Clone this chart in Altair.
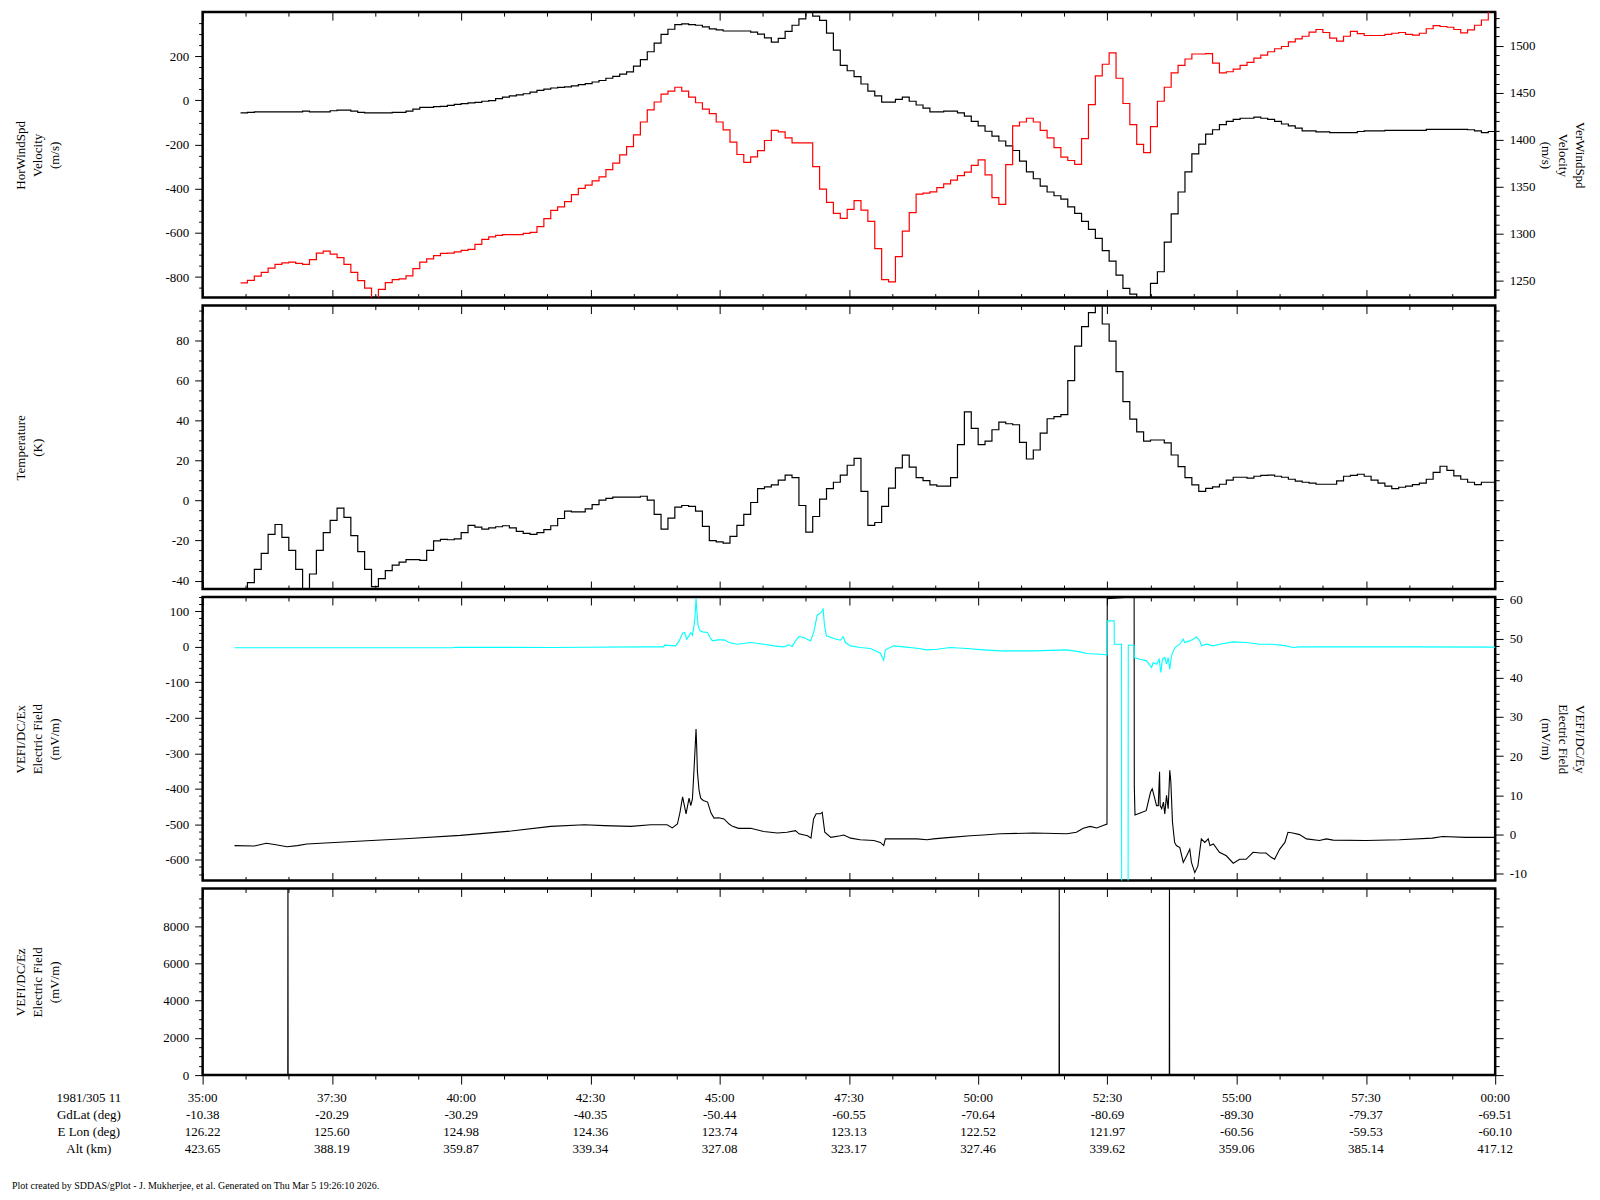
import altair as alt
import pandas as pd

FONT = "Liberation Serif"

# ---------------- data ----------------
T0, DT, T_END = 44, 8, 1500   # seconds after 11:35:00, 8 s sampling

hor_wind = [-57,-54,-52,-52,-52,-52,-52,-52,-52,-49,
            -52,-52,-52,-47,-44,-44,-49,-54,-57,-57,
            -57,-57,-54,-54,-49,-40,-32,-32,-28,-27,
            -23,-18,-15,-11,-9,-4,-1,8,15,20,
            25,30,37,45,51,56,59,61,66,71,
            76,83,90,100,109,119,129,155,
            184,220,259,299,322,343,346,343,340,333,
            324,319,314,314,314,314,309,300,283,264,
            281,312,340,369,405,381,362,304,227,158,
            134,107,74,42,20,-8,-8,4,15,-4,
            -21,-35,-52,-52,-49,-49,-57,-71,-95,-116,
            -140,-162,-184,-206,-227,-275,-324,-355,-388,-415,
            -432,-447,-482,
            -512,-548,-584,-625,-680,-728,-791,-851,-877,-900,
            -900,-829,-776,-642,-514,-415,-324,-242,-198,-153,
            -133,-110,-95,-86,-81,-81,-76,-81,-86,-95,
            -107,-116,-126,-138,-138,-143,-143,-146,-146,-146,
            -146,-141,-138,-138,-138,-136,-136,-136,-136,-136,
            -136,-131,-131,-131,-131,-131,-131,-133,-138,-146,
            -141]

ver_wind = [1247.6,1250.4,1254.8,1258.9,1263.3,1267.3,1268.9,1269.7,1268.5,1267.3,
            1272.5,1279.4,1281.4,1278.2,1274.5,1267.3,1258.9,1250.0,1242.0,1225.0,
            1240.7,1248.0,1251.2,1252.0,1255.2,1262.9,1269.7,1273.3,1276.6,1279.0,
            1279.4,1280.6,1282.2,1283.4,1288.6,1293.9,1296.7,1298.3,1299.1,1299.1,
            1299.1,1300.3,1301.5,1307.5,1316.0,1324.8,1328.5,1334.1,1341.7,1348.2,
            1351.8,1356.2,1360.6,1368.3,1375.1,1384.0,1392.8,1405.3,
            1419.0,1431.8,1440.3,1448.7,1451.9,1456.0,1451.9,1445.5,1439.5,1432.6,
            1427.8,1419.0,1410.5,1397.6,1384.4,1375.9,1381.9,1388.4,1399.3,1410.1,
            1408.5,1402.1,1396.8,1396.8,1396.8,1371.5,1347.4,1333.3,1321.6,1316.4,
            1326.0,1335.3,1325.2,1313.2,1284.2,1251.2,1248.8,1275.7,1302.7,1322.4,
            1342.1,1343.3,1344.5,1349.0,1353.0,1357.0,1361.8,1365.5,1372.7,1378.7,
            1362.6,1338.5,1331.3,1373.5,1414.9,1419.0,1423.0,1419.0,1410.1,1402.1,
            1391.6,1381.6,1378.0,
            1373.9,1401.3,1437.5,1468.0,1480.5,1492.6,1465.6,1438.7,1416.1,1395.2,
            1386.4,1414.1,1441.1,1456.0,1471.3,1479.3,1486.1,1491.4,1491.4,1491.8,
            1481.7,1471.3,1472.5,1475.3,1479.3,1482.5,1487.0,1490.2,1493.8,1497.0,
            1499.4,1504.3,1507.5,1510.3,1514.7,1517.5,1514.3,1508.3,1505.1,1510.3,
            1515.5,1513.1,1511.1,1511.1,1511.1,1512.3,1513.5,1514.3,1512.3,1511.5,
            1513.5,1518.3,1521.6,1520.7,1519.9,1517.5,1513.9,1517.1,1522.0,1527.6,
            1545.0]

temperature = [-47,-41.0,-34.4,-26.4,-16.9,-12.0,-18.4,-24.9,-34.4,-47,
               -36.7,-24.9,-16.0,-9.9,-3.8,-8.4,-17.5,-25.5,-34.4,-43.0,
               -39.0,-35.0,-32.3,-30.8,-29.5,-29.5,-29.9,-24.9,-20.2,-19.4,
               -19.6,-19.2,-16.0,-12.4,-13.3,-14.3,-13.7,-13.1,-12.6,-13.7,
               -15.4,-16.4,-16.9,-16.0,-14.5,-12.6,-9.0,-5.3,-5.7,-5.7,
               -4.2,-2.1,0.2,1.1,1.7,1.7,1.7,1.7,
               2.1,0.2,-6.9,-14.3,-8.8,-3.3,-2.5,-2.9,-5.3,-12.9,
               -20.0,-20.7,-21.3,-17.9,-12.4,-6.9,-1.0,5.9,6.8,7.8,
               10.2,12.7,11.4,-2.5,-15.8,-8.0,0.7,5.9,9.1,12.7,
               17.6,21.0,4.5,-12.4,-11.0,-2.9,6.2,16.3,22.6,16.7,
               11.4,9.9,7.8,7.2,7.2,11.4,27.9,44.2,36.0,27.9,
               29.6,35.3,39.1,38.3,37.8,29.0,20.7,25.2,33.6,40.8,
               41.9,42.9,59.8,
               77.1,86.8,93.8,100,88.1,79.5,64.3,49.3,40.6,34.2,
               29.6,30.2,30.2,28.8,22.7,16.9,11.4,7.8,4.5,6.0,
               6.8,8.1,10.2,11.6,11.6,11.2,12.1,12.5,12.7,12.1,
               11.6,10.6,9.7,9.1,8.7,8.1,8.1,8.1,9.8,12.1,
               12.5,13.1,12.1,10.2,8.7,7.2,5.9,6.6,7.2,7.9,
               8.7,10.6,14.0,17.1,15.0,12.3,10.6,9.1,7.9,9.1,
               9.1]

# VEFI DC Ex (cyan, left axis), (seconds after 11:35:00, mV/m)
ex_points = [(37,-3.0),(290,-3.0),(295,-1.5),(404,-2.2),(443,-1.5),(512,-0.3),(535,-0.3),(536,4.4),
             (549,2.5),(553,16.5),(557,38.1),(559.5,40.0),(561.8,21.2),(564.5,30.6),(566.5,40.0),
             (568.4,32.5),(570.3,58.7),(571.5,86.9),(572.6,135.6),(573.4,105.6),(575,58.7),(577.3,44.7),
             (580,41.9),(585.8,40.0),(588.9,25.9),(591.6,16.5),(597.4,19.4),(605.1,19.4),(610.9,11.9),
             (620.5,7.2),(636,11.9),(651.4,7.2),(663,2.5),(674.6,-0.3),(680.4,5.3),(684.2,0.6),
             (688.1,16.5),(692,28.7),(697.7,25.9),(705.5,16.5),(709.3,41.9),(713.2,88.8),(717,94.4),
             (720.1,105.6),(721.7,58.7),(724,30.6),(732.5,23.1),(740.2,18.4),(743.3,28.7),(746,11.9),
             (751.8,2.5),(763.4,-2.2),(775,-5.0),(786.5,-18.1),(790.4,-37.8),(792.3,-8.8),(802,2.5),
             (813.6,-0.3),(829,-4.1),(840.6,-8.8),(852.2,-6.9),(867.6,-2.2),(886.9,-5.0),(906.2,-8.8),
             (925.5,-11.6),(964,-11.6),(1002.7,-8.8),(1018.2,-14.4),(1025.9,-19.1),(1041.3,-21.0),
             (1049.6,-22.8),(1049.8,72.8),(1057.8,72.8),(1058,7.2),(1066.3,7.2),(1066.5,-700),
             (1074,-700),(1074.2,4.4),(1081,4.4),(1081.2,-30.3),(1087.7,-35.0),(1095.4,-39.7),
             (1099.2,-51.9),(1101.2,-58.5),(1103.1,-44.4),(1107,-49.1),(1110.1,-35.0),(1112,-72.5),
             (1113.9,-35.0),(1116.6,-30.3),(1118.6,-49.1),(1120.5,-30.3),(1122.4,-63.2),(1124.3,-25.6),
             (1126.3,-14.4),(1128.2,-2.2),(1134,7.2),(1137.9,21.2),(1139.8,11.9),(1145.6,16.5),
             (1149.4,21.2),(1153.3,27.8),(1157.2,16.5),(1159.1,2.5),(1164.9,7.2),(1172.6,2.5),
             (1180.3,7.2),(1195.8,13.7),(1211.2,11.9),(1226.7,7.2),(1242.1,7.2),(1257.5,2.5),
             (1265.3,-2.2),(1273,-0.3),(1400,-0.3),(1500,-1.2)]

# VEFI DC Ey (black, right axis)
ey_points = [(37,-2.8),(60,-2.9),(74,-2.2),(85,-2.6),(98,-3.1),(110,-2.8),(121,-2.4),(180,-1.7),
             (240,-1.0),(299,-0.2),(358,0.9),(404,2.1),(443,2.5),(466,2.3),(497,2.1),(520,2.5),
             (539,2.5),(545,1.7),(551,2.7),(554,5.7),(557,9.6),(561,5.3),(564.5,9.3),(566.5,7.4),
             (568.4,9.1),(570.3,16.8),(571.5,22.0),(572.6,26.9),(573.4,22.0),(574.2,16.0),(576.1,11.3),
             (578,9.3),(581,8.7),(586,8.3),(590,5.5),(593.5,4.2),(599,4.3),(605,4.0),(611,2.7),
             (615,2.1),(622,1.6),(636,1.6),(651,0.8),(667,0.4),(678,0.6),(688,1.0),(692,0.2),
             (702,-0.3),(706,-0.9),(709,4.0),(712,5.3),(717,5.3),(719,5.7),(720,4.0),(722,0.6),
             (729,-0.7),(740,-0.3),(744,-0.1),(752,-0.9),(763,-1.3),(779,-1.5),(786.5,-2.0),
             (790.4,-2.8),(792.3,-1.1),(802,-1.1),(829,-1.1),(840.6,-1.3),(848,-1.1),(868,-0.7),
             (891,-0.3),(906,-0.1),(925.5,0.2),(964,0.4),(1003,0.2),(1014,0.6),(1022,1.6),(1030,2.1),
             (1037.5,1.7),(1045,2.3),(1049.5,2.7),(1049.8,60.2),(1070,60.5),(1081,60.6),(1081.2,12.3),
             (1082,5.0),(1088,5.5),(1095,6.1),(1100,10.8),(1102,11.7),(1104,10.0),(1107,7.4),
             (1109,7.4),(1110.5,16.0),(1111.2,7.4),(1113,6.6),(1115,8.3),(1116.6,5.3),(1118.6,10.0),
             (1120.5,6.6),(1122.4,16.4),(1123.6,13.4),(1125.5,3.2),(1128,-2.0),(1130,-2.8),(1134,-3.3),
             (1138,-7.1),(1142,-5.4),(1145.6,-3.7),(1147.5,-7.1),(1151.4,-9.7),(1155,-8.0),(1157,-4.5),
             (1159,-1.1),(1163,-2.0),(1167,-1.1),(1169,-2.8),(1173,-2.4),(1180,-4.5),(1188,-5.4),
             (1196,-7.3),(1203.5,-6.3),(1211,-6.3),(1219,-4.5),(1227,-4.7),(1234,-4.7),(1240,-5.8),
             (1244,-6.3),(1250,-3.7),(1256,-2.0),(1259.5,0.6),(1265,0.4),(1273,0.0),(1281,-1.1),
             (1296,-1.5),(1304,-1.1),(1312,-1.4),(1350,-1.5),(1389,-1.3),(1427,-0.9),(1439,-0.5),
             (1466,-0.7),(1500,-0.7)]

# VEFI DC Ez (black)
ez_points = [(37,0),(98.8,0),(99.0,12000),(99.2,0),(993.9,0),(994.1,12000),(994.3,0),
             (1121.8,0),(1122.0,12000),(1122.2,0),(1500,0)]

# ephemeris table under the time axis
tick_times = [0,150,300,450,600,750,900,1050,1200,1350,1500]
tick_labels = ["35:00","37:30","40:00","42:30","45:00","47:30","50:00","52:30","55:00","57:30","00:00"]
gd_lat = [-10.38,-20.29,-30.29,-40.35,-50.44,-60.55,-70.64,-80.69,-89.30,-79.37,-69.51]
e_lon = [126.22,125.60,124.98,124.36,123.74,123.13,122.52,121.97,-60.56,-59.53,-60.10]
alt_km = [423.65,388.19,359.87,339.34,327.08,323.17,327.46,339.62,359.06,385.14,417.12]
row_names = ["1981/305 11","GdLat (deg)","E Lon (deg)","Alt (km)"]
footer = "Plot created by SDDAS/gPlot - J. Mukherjee, et al.  Generated on Thu Mar 5 19:26:10 2026."

# ---------------- frames ----------------
def step_frame(values):
    t = [T0 + DT * k for k in range(len(values))] + [T_END]
    return pd.DataFrame({"t": t, "v": list(values) + [values[-1]]})

def pts_frame(points):
    return pd.DataFrame({"t": [p[0] for p in points], "v": [p[1] for p in points]})

df_hor = step_frame(hor_wind)
df_ver = step_frame(ver_wind)
df_tmp = step_frame(temperature)
df_ex = pts_frame(ex_points)
df_ey = pts_frame(ey_points)
df_ez = pts_frame(ez_points)
df_eph = pd.DataFrame({
    "t": tick_times, "time": tick_labels,
    "lat": [f"{v:.2f}" for v in gd_lat],
    "lon": [f"{v:.2f}" for v in e_lon],
    "alt": [f"{v:.2f}" for v in alt_km],
})

# ---------------- layout ----------------
W = 1295
H1, H2, H3, H4 = 286, 284, 284, 187
XDOM = [0, 1500]
XMAJ = list(range(0, 1501, 150))
XMIN = [t for t in range(0, 1501, 50) if t % 150]

def xaxis(orient, values, size, inward=True):
    return alt.Axis(orient=orient, values=values, labels=False, title=None, domain=False,
                    grid=False, tickSize=size, tickColor="black", tickWidth=1,
                    offset=-size if inward else 0)

def yaxis(orient, values, size, labels=True, title=None, height=100):
    kw = dict(orient=orient, values=values, tickSize=size, tickColor="black", tickWidth=1,
              domain=False, grid=False, labels=labels)
    if labels:
        kw.update(labelFont=FONT, labelFontSize=13, labelColor="black", labelPadding=6,
                  labelExpr="'' + datum.value")
    if title:
        kw.update(title=title, titleFont=FONT, titleFontSize=13, titleFontWeight="normal",
                  titleColor="black", titleAlign="center", titleBaseline="top",
                  titleLineHeight=17, titleY=height / 2,
                  titleAngle=270 if orient == "left" else 90,
                  titleX=-188 if orient == "left" else 90.5)
    else:
        kw["title"] = None
    return alt.Axis(**kw)

def line(df, ydom, color, xax, yax, opacity=1.0, interp="step-after", width=1.2):
    return alt.Chart(df).mark_line(color=color, strokeWidth=width, interpolate=interp,
                                   clip=True, opacity=opacity).encode(
        x=alt.X("t:Q", scale=alt.Scale(domain=XDOM, nice=False, zero=False), axis=xax),
        y=alt.Y("v:Q", scale=alt.Scale(domain=ydom, nice=False, zero=False), axis=yax),
    )

def panel(layers, h):
    return alt.layer(*layers).resolve_scale(x="independent", y="independent").properties(width=W, height=h)

# Panel 1: winds
DOM_HOR = [-893, 399.5]
DOM_VER = [1232, 1536]
hor_major = list(range(-800, 201, 200)); hor_minor = [v for v in range(-850, 400, 50) if v % 200]
ver_major = list(range(1250, 1501, 50)); ver_minor = [v for v in range(1240, 1536, 10) if v % 50]
p1 = panel([
    line(df_hor, DOM_HOR, "black", xaxis("bottom", XMAJ, 8),
         yaxis("left", hor_major, 8, title=["HorWindSpd", "Velocity", "(m/s)"], height=H1)),
    line(df_hor, DOM_HOR, "black", xaxis("bottom", XMIN, 4), yaxis("left", hor_minor, 4, labels=False), opacity=0),
    line(df_ver, DOM_VER, "#ff0000", xaxis("top", XMAJ, 8),
         yaxis("right", ver_major, 8, title=["VerWindSpd", "Velocity", "(m/s)"], height=H1)),
    line(df_ver, DOM_VER, "#ff0000", xaxis("top", XMIN, 4), yaxis("right", ver_minor, 4, labels=False), opacity=0),
], H1)

# Panel 2: temperature
DOM_TMP = [-44.2, 97.3]
tmp_major = list(range(-40, 81, 20)); tmp_minor = [v for v in range(-40, 96, 5) if v % 20]
p2 = panel([
    line(df_tmp, DOM_TMP, "black", xaxis("bottom", XMAJ, 8),
         yaxis("left", tmp_major, 8, title=["Temperature", "(K)"], height=H2)),
    line(df_tmp, DOM_TMP, "black", xaxis("bottom", XMIN, 4), yaxis("left", tmp_minor, 4, labels=False), opacity=0),
    line(df_tmp, DOM_TMP, "black", xaxis("top", XMAJ, 8), yaxis("right", tmp_major, 8, labels=False), opacity=0),
    line(df_tmp, DOM_TMP, "black", xaxis("top", XMIN, 4), yaxis("right", tmp_minor, 4, labels=False), opacity=0),
], H2)

# Panel 3: Ex / Ey
DOM_EX = [-658, 140]
DOM_EY = [-11.7, 60.6]
ex_major = list(range(-600, 101, 100)); ex_minor = [v for v in range(-640, 141, 20) if v % 100]
ey_major = list(range(-10, 61, 10)); ey_minor = [v for v in range(-10, 61, 2) if v % 10]
p3 = panel([
    line(df_ey, DOM_EY, "black", xaxis("top", XMAJ, 8),
         yaxis("right", ey_major, 8, title=["VEFI/DC/Ey", "Electric Field", "(mV/m)"], height=H3),
         interp="linear", width=1.1),
    line(df_ey, DOM_EY, "black", xaxis("top", XMIN, 4), yaxis("right", ey_minor, 4, labels=False), opacity=0, interp="linear"),
    line(df_ex, DOM_EX, "#00ffff", xaxis("bottom", XMAJ, 8),
         yaxis("left", ex_major, 8, title=["VEFI/DC/Ex", "Electric Field", "(mV/m)"], height=H3),
         interp="linear", width=1.1),
    line(df_ex, DOM_EX, "#00ffff", xaxis("bottom", XMIN, 4), yaxis("left", ex_minor, 4, labels=False), opacity=0, interp="linear"),
], H3)

# Panel 4: Ez + ephemeris
DOM_EZ = [0, 10040]
ez_major = list(range(0, 8001, 2000)); ez_minor = [v for v in range(0, 10001, 500) if v % 2000]

def text_at(df, field, y, x=None, align="center", size=13):
    enc = dict(y=alt.value(y), text=alt.Text(f"{field}:N"))
    if x is None:
        enc["x"] = alt.X("t:Q", scale=alt.Scale(domain=XDOM, nice=False, zero=False), axis=None)
    else:
        enc["x"] = alt.value(x)
    return alt.Chart(df).mark_text(font=FONT, fontSize=size, color="black", align=align,
                                   baseline="middle").encode(**enc)

ROW_Y = [H4 + 23, H4 + 40, H4 + 57, H4 + 74]
eph_layers = []
for field, lab, yy in zip(["time", "lat", "lon", "alt"], row_names, ROW_Y):
    eph_layers.append(text_at(df_eph, field, yy))
    eph_layers.append(text_at(pd.DataFrame({"s": [lab]}), "s", yy, x=-114))
eph_layers.append(text_at(pd.DataFrame({"s": [footer]}), "s", H4 + 111, x=-191, align="left", size=10))

p4 = panel([
    line(df_ez, DOM_EZ, "black", xaxis("bottom", XMAJ, 9, inward=False),
         yaxis("left", ez_major, 8, title=["VEFI/DC/Ez", "Electric Field", "(mV/m)"], height=H4),
         interp="linear", width=1.1),
    line(df_ez, DOM_EZ, "black", xaxis("bottom", XMIN, 4, inward=False), yaxis("left", ez_minor, 4, labels=False), opacity=0, interp="linear"),
    line(df_ez, DOM_EZ, "black", xaxis("top", XMAJ, 8), yaxis("right", ez_major, 8, labels=False), opacity=0, interp="linear"),
    line(df_ez, DOM_EZ, "black", xaxis("top", XMIN, 4), yaxis("right", ez_minor, 4, labels=False), opacity=0, interp="linear"),
] + eph_layers, H4)

chart = alt.vconcat(p1, p2, p3, p4, spacing=8, bounds="flush").properties(
    padding={"left": 2, "top": 1, "right": 5, "bottom": 5},
    background="white",
).configure_view(stroke="black", strokeWidth=2.5)

chart.save("out.html", embed_options={"renderer": "svg", "actions": False})
